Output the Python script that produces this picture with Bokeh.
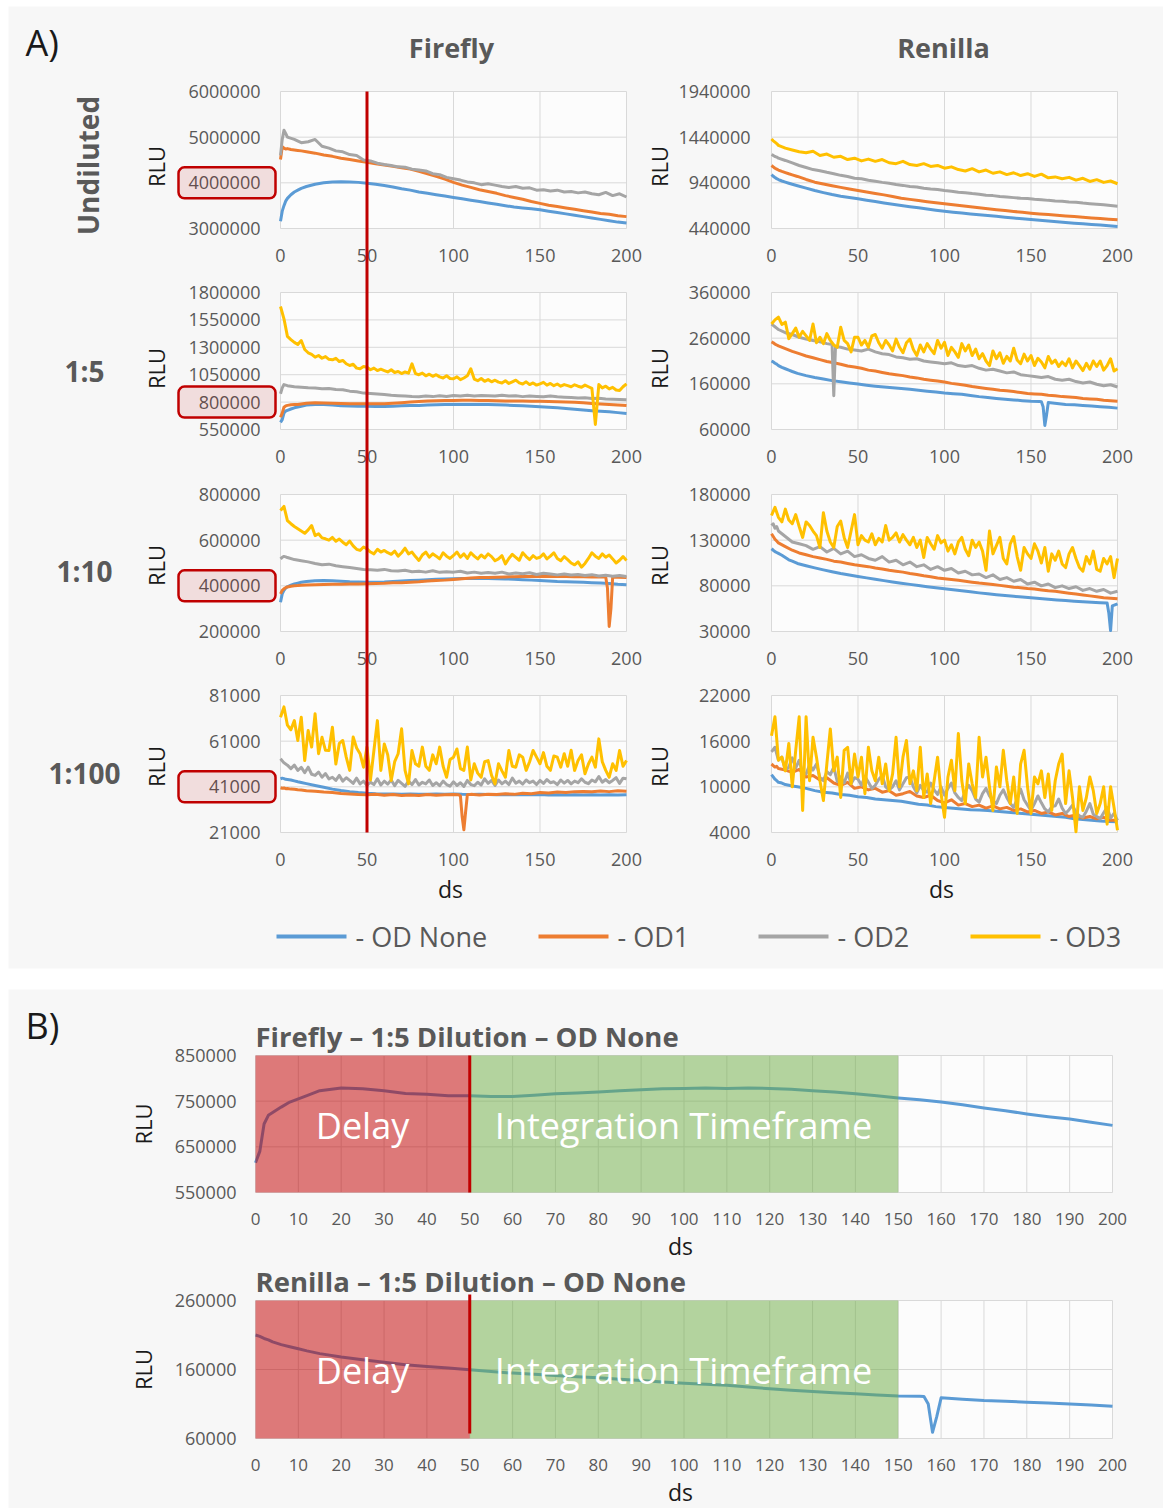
import math
from bokeh.plotting import figure
from bokeh.models import Range1d, LinearAxis, FixedTicker, BasicTickFormatter, BoxAnnotation
from bokeh.core.properties import value
from bokeh.embed import file_html
from bokeh.resources import INLINE

# ======================= DATA (RLU values in thousands) =======================
# x sampling grids (ds)
XS = [0, 1, 2, 3, 4, 6, 8, 10, 12, 15] + list(range(20, 201, 5))
X4 = [0, 1, 2, 3] + list(range(4, 201, 4))
X2 = list(range(0, 201, 2))
X_RN15_NONE = [0, 1, 2, 3, 4, 6, 8, 10, 12, 15] + list(range(20, 156, 5)) + [156, 157, 158, 159] + list(range(160, 201, 5))
X_RN15_OD2 = [0, 1, 2, 3] + list(range(4, 33, 4)) + [35, 36, 37] + list(range(40, 201, 4))
X_FF110_OD1 = [0, 1, 2, 3, 4, 6, 8, 10, 12, 15] + list(range(20, 186, 5)) + [188, 189, 190, 191, 192, 195, 200]
X_RN110_NONE = [0, 1, 2, 3, 4, 6, 8, 10, 12, 15] + list(range(20, 191, 5)) + [194, 195, 196, 197, 200]
X_FF1100_OD1 = [0, 1, 2, 3, 4, 6, 8, 10, 12, 15] + list(range(20, 101, 5)) + [103, 104, 105, 106, 107, 108] + list(range(110, 201, 5))

SERIES_NAMES = ["OD None", "OD1", "OD2", "OD3"]
ROW_NAMES = ["Undiluted", "1:5", "1:10", "1:100"]
COLUMN_NAMES = ["Firefly", "Renilla"]

# ---- Undiluted ----
FF_UND_NONE = [3160, 3380, 3500, 3600, 3660, 3740, 3800, 3840, 3880, 3920,
               3970, 4000, 4020, 4025, 4020, 4010, 3990, 3970, 3940, 3910, 3870, 3840, 3800, 3770, 3740, 3710, 3680,
               3650, 3620, 3590, 3560, 3530, 3500, 3470, 3450, 3430, 3410, 3380, 3350, 3320, 3290, 3260, 3230, 3200,
               3170, 3140, 3120]
FF_UND_OD1 = [4510, 4790, 4760, 4740, 4750, 4730, 4720, 4710, 4700, 4680,
              4650, 4610, 4580, 4540, 4510, 4480, 4450, 4420, 4390, 4360, 4330, 4300, 4250, 4200, 4140, 4080, 4010,
              3950, 3900, 3850, 3810, 3770, 3720, 3680, 3640, 3590, 3550, 3510, 3480, 3450, 3420, 3390, 3360, 3330,
              3310, 3280, 3260]
FF_UND_OD2 = [4600, 4950, 5150, 5080, 5000, 4950, 4880, 4900, 4950, 4800, 4760, 4700, 4680, 4620,
              4600, 4500, 4480, 4430, 4400, 4380, 4350, 4340, 4300, 4280, 4260, 4200, 4180, 4120, 4090, 4060, 4020,
              4000, 3960, 3980, 3950, 3920, 3900, 3920, 3880, 3890, 3840, 3850, 3820, 3840, 3800, 3810, 3780, 3800,
              3760, 3740, 3790, 3720, 3760, 3690]
RN_UND_NONE = [1030, 1012, 998, 986, 976, 960, 948, 936, 924, 908,
               882, 856, 833, 812, 794, 779, 765, 750, 735, 720, 706, 692, 679, 666, 653, 641, 629, 619, 609, 600,
               591, 582, 573, 564, 555, 546, 538, 530, 522, 514, 506, 498, 491, 484, 477, 470, 462]
RN_UND_OD1 = [1130, 1115, 1100, 1090, 1080, 1065, 1052, 1039, 1027, 1010,
              977, 947, 927, 908, 890, 872, 856, 839, 823, 808, 790, 772, 759, 746, 734, 722, 710, 699, 688, 677,
              666, 656, 646, 636, 627, 617, 608, 600, 593, 585, 578, 571, 564, 556, 549, 542, 535]
RN_UND_OD2 = [1250, 1240, 1228, 1222, 1210, 1185, 1158, 1130, 1108, 1085, 1072, 1055, 1040, 1022,
              1010, 990, 985, 968, 958, 945, 936, 922, 912, 900, 895, 880, 872, 866, 856, 848, 838, 832, 822, 815,
              803, 800, 790, 785, 778, 770, 768, 760, 756, 748, 742, 738, 730, 728, 718, 712, 706, 700, 692, 684]
RN_UND_OD3 = [1420, 1400, 1385, 1370, 1350, 1320, 1300, 1280, 1270, 1285, 1240, 1255, 1220, 1230,
              1195, 1210, 1180, 1200, 1175, 1195, 1160, 1150, 1175, 1140, 1130, 1150, 1120, 1130, 1100, 1115, 1085,
              1070, 1095, 1060, 1080, 1045, 1060, 1030, 1050, 1020, 1040, 1010, 1035, 995, 1005, 985, 1000, 970,
              990, 955, 975, 945, 960, 930]

# ---- 1:5 ----
FF_15_NONE = [615, 640, 700, 719, 725, 737, 748, 755, 762, 773,
              779, 777, 773, 767, 765, 762, 762, 760, 760, 763, 766, 768, 770, 773, 775, 777, 778, 779, 778, 779,
              778, 776, 773, 770, 766, 762, 757, 753, 748, 742, 735, 729, 722, 716, 711, 704, 697]
FF_15_OD1 = [662, 700, 753, 765, 770, 775, 777, 778, 783, 790,
             793, 792, 790, 788, 786, 785, 784, 784, 786, 790, 795, 800, 805, 809, 812, 814, 815, 816, 816, 815,
             814, 812, 811, 810, 809, 808, 808, 806, 804, 801, 798, 793, 788, 783, 778, 774, 769]
FF_15_OD2 = [876, 930, 960, 955, 950, 940, 935, 930, 928, 922, 925, 915, 912, 900,
             895, 882, 878, 875, 870, 862, 858, 855, 850, 848, 855, 850, 858, 852, 860, 855, 862, 856, 860, 858,
             855, 862, 855, 858, 850, 856, 852, 848, 855, 848, 845, 842, 838, 840, 832, 836, 828, 826, 824, 821]
FF_15_OD3 = [1672, 1560, 1400, 1370, 1345, 1326, 1362, 1280, 1250, 1235,
             1210, 1225, 1200, 1215, 1190, 1186, 1200, 1170, 1180, 1150,
             1134, 1145, 1110, 1104, 1125, 1118, 1095, 1110, 1088, 1100,
             1088, 1075, 1095, 1070, 1080, 1060, 1075, 1064, 1149, 1060,
             1050, 1065, 1040, 1055, 1035, 1050, 1030, 1020, 1040, 1015,
             1013, 1030, 1005, 1020, 1040, 1104, 1010, 995, 1015, 990,
             1005, 985, 1000, 982, 975, 995, 970, 985, 1000, 975,
             965, 985, 960, 975, 955, 967, 980, 955, 970, 950,
             965, 945, 960, 950, 940, 958, 945, 935, 955, 940,
             925, 596, 960, 930, 945, 920, 935, 910, 906, 940,
             967]
RN_15_NONE = [210, 208, 205, 203, 200, 196, 193, 190, 187, 183,
              178, 174, 170.6, 167, 164.4, 162, 159.6, 157, 154.8, 153, 151.3, 149.6, 148, 146, 144, 142, 140,
              138.5, 137, 134.5, 132, 130, 128, 126.4, 124.8, 123.2, 121.6, 121.2,
              121, 110, 69, 92,
              119, 117, 115, 114, 112.7, 111.3, 110, 108.5, 106.8]
RN_15_OD1 = [252, 250, 247, 245, 243, 237, 231, 226, 221, 217, 213, 209, 206, 203,
             199, 197, 194, 190, 188, 185, 182, 180, 178, 175, 173, 170, 168, 166, 164, 161, 159, 157, 154, 152,
             150, 148, 146, 145, 143, 141, 139, 138, 137, 135, 134, 132, 131, 130, 128, 127, 126, 124, 123, 122]
RN_15_OD2 = [291, 288, 285, 282, 279, 272, 268, 262, 258, 255, 252, 248,
             246, 134, 242,
             240, 236, 234, 232, 236, 230, 226, 224, 219, 217, 214, 215, 210, 208, 206, 204, 206, 200, 198, 200,
             194, 190, 192, 188, 184, 186, 180, 178, 176, 174, 176, 170, 168, 170, 165, 162, 164, 159, 156, 158, 153]
RN_15_OD3 = [291, 300, 306, 290, 295, 259, 270, 282, 262, 275,
             265, 255, 291, 250, 262, 248, 270, 255, 245, 240,
             284, 255, 248, 230, 262, 262, 245, 255, 240, 265,
             268, 250, 238, 255, 245, 232, 258, 240, 228, 250,
             258, 235, 222, 245, 230, 248, 236, 226, 255, 238,
             251, 222, 240, 230, 218, 248, 232, 245, 222, 236,
             215, 226, 210, 200, 232, 215, 228, 205, 220, 210,
             238, 212, 204, 225, 210, 222, 200, 216, 208, 195,
             220, 205, 212, 198, 208, 200, 215, 195, 210, 200,
             189, 205, 192, 210, 198, 210, 190, 200, 215, 188,
             193]

# ---- 1:10 ----
FF_110_NONE = [328, 365, 380, 390, 396, 403, 408, 412, 416, 419,
               422, 423, 422, 420, 418, 417, 416, 416, 417, 419, 421, 423, 425, 427, 429, 430, 431, 432, 432, 432,
               432, 431, 430, 429, 427, 425, 423, 421, 419, 418, 417, 416, 414, 412, 410, 407, 405]
FF_110_OD1 = [365, 380, 387, 392, 395, 398, 400, 401, 403, 404,
              405, 406, 407, 407, 408, 408, 409, 410, 411, 413, 414, 416, 418, 421, 423, 425, 428, 431, 434, 436,
              437, 438, 439, 440, 441, 441, 441, 441, 441, 441, 440, 440, 439, 439,
              439, 390, 222, 300, 438, 438, 437]
FF_110_OD2 = [518, 525, 529, 527, 524, 515, 510, 505, 498, 492, 495, 488, 484, 480,
              476, 472, 470, 468, 472, 466, 465, 468, 462, 464, 460, 466, 459, 462, 460, 464, 456, 460, 455, 458,
              455, 460, 452, 456, 453, 457, 450, 455, 452, 448, 452, 447, 450, 445, 449, 443, 446, 442, 445, 441]
FF_110_OD3 = [730, 748, 686, 672, 660, 650, 640, 630, 645, 664,
              620, 628, 610, 606, 600, 612, 595, 605, 591, 580,
              596, 575, 560, 555, 570, 562, 548, 540, 560, 548,
              555, 545, 538, 552, 530, 545, 565, 540, 548, 528,
              511, 535, 548, 525, 540, 530, 518, 545, 530, 520,
              533, 548, 525, 540, 520, 545, 530, 518, 535, 522,
              540, 528, 510, 518, 532, 496, 520, 538, 525, 512,
              545, 528, 515, 532, 520, 525, 540, 518, 530, 545,
              520, 510, 528, 515, 500, 492, 505, 482, 498, 520,
              545, 530, 520, 540, 525, 535, 518, 500, 512, 528,
              511]
RN_110_NONE = [120.6, 119, 117.5, 116.5, 115.5, 113.5, 111, 108.5, 107, 104.5,
               102, 99.7, 97.5, 95.5, 93.5, 91.8, 90.2, 88.7, 87.2, 85.7, 84.3, 82.9, 81.6, 80.3, 79, 77.8, 76.7,
               75.6, 74.5, 73.4, 72.3, 71.3, 70.3, 69.4, 68.5, 67.7, 66.9, 66.1, 65.3, 64.6, 63.9, 63.2, 62.6, 62,
               61.5,
               61.1, 50, 31, 58, 60.3]
RN_110_OD1 = [137, 134, 131, 129, 127, 123, 119, 116, 114, 112, 110.5, 109, 107, 106,
              104.5, 103, 102, 101, 99.5, 98.5, 97, 96, 95, 93.5, 92.5, 91, 90, 88.5, 87.7, 87, 86, 85, 84, 83,
              82.2, 81.5, 80.5, 79.5, 78.5, 78, 77, 76.5, 75.5, 74.5, 74, 73, 72, 71, 70, 69, 68, 67, 66.5, 65.8]
RN_110_OD2 = [146, 148, 143, 145, 140, 134, 128, 126, 124, 120, 123, 117, 121, 115,
              118, 112, 114, 110, 108, 112, 106, 108, 103, 106, 101, 103, 98, 101, 97, 99, 94, 96, 92, 93,
              89, 92, 87, 89, 85, 87, 82, 84, 80, 82, 78, 80, 77, 79, 75, 77, 74, 76, 72, 74]
RN_110_OD3 = [157, 166, 155, 150, 164, 152, 148, 158, 145, 133,
              150, 146, 140, 135, 122, 160, 140, 128, 122, 145,
              151, 133, 122, 140, 158, 125, 135, 130, 128, 137,
              125, 132, 128, 146, 130, 133, 138, 128, 136, 130,
              125, 133, 122, 130, 111, 133, 126, 120, 135, 127,
              130, 118, 125, 115, 128, 133, 120, 113, 130, 122,
              128, 118, 97, 140, 115, 124, 133, 110, 104, 126,
              134, 112, 97, 122, 115, 110, 126, 118, 105, 122,
              96, 115, 108, 118, 104, 100, 115, 122, 110, 100,
              96, 112, 104, 118, 98, 96, 110, 104, 112, 89,
              110]

# ---- 1:100 ----
FF_1100_NONE = [44.5, 44.8, 44.6, 44.3, 44.2, 44, 43.6, 43.2, 42.9, 42.4,
                41.6, 40.8, 40, 39.4, 38.9, 38.5, 38.2, 38, 37.9, 37.9, 37.8, 37.9, 37.8, 37.8, 37.9, 37.8, 37.9,
                37.7, 37.6, 37.7, 37.6, 37.5, 37.6, 37.5, 37.6, 37.5, 37.6, 37.4, 37.5, 37.4, 37.5, 37.4, 37.5,
                37.4, 37.5, 37.4, 37.5]
FF_1100_OD1 = [40.6, 40.4, 40.5, 40.2, 40.3, 40, 39.9, 39.7, 39.6, 39.3,
               39.1, 38.7, 38.5, 38.1, 37.9, 37.6, 37.5, 37.8, 37.3, 37.6, 37.2, 37.4, 37.2, 37.6, 37.3, 37.5, 37.6,
               37.5, 37, 28, 22.2, 30, 37.5,
               37.7, 37.4, 37.8, 37.6, 38, 37.7, 38.2, 38, 38.5, 38.3, 38.7, 38.5, 38.9, 39, 38.8, 39.2, 38.9, 39.3,
               39.1]
FF_1100_OD2 = [53.3, 51.5, 50.5, 49, 50.5, 48.2, 49.5, 47.2, 49.6, 46.5,
               46, 47.5, 45.2, 46.8, 44.5, 45.2, 43.8, 46, 43.5, 45,
               43.8, 42.5, 44.8, 42.3, 43.5, 41.6, 43, 42, 44.5, 41.8,
               43.5, 42.2, 44, 41.5, 43.8, 42.5, 41.2, 43.5, 42, 44.2,
               41.8, 43, 42.3, 44, 41.6, 42.8, 41.5, 43.5, 42, 41.3,
               43.2, 41.6, 42.8, 41.2, 43.8, 42, 41.5, 43, 41.8, 44.5,
               42.5, 43.8, 41.6, 44, 42.3, 43.5, 42, 44.8, 42.6, 43.5,
               42.2, 44, 42.8, 43.5, 42, 43.8, 42.5, 44.2, 42.8, 43.2,
               42, 44, 42.6, 43.8, 42.3, 43.5, 42.8, 44.5, 43, 42.4,
               44, 43.2, 45.5, 43, 44.2, 42.8, 43.8, 45, 42.5, 44.8,
               44.5]
FF_1100_OD3 = [71.5, 76, 68, 66, 70, 61.3, 71.5, 52.5, 65.7, 58.4,
               73, 55.5, 62.7, 57, 56.9, 67.1, 51, 60, 61.3, 54,
               48.2, 62.8, 58, 55.5, 49.6, 58.4, 44, 56.9, 70, 48.2,
               59.8, 55, 43.8, 52, 55.5, 66.4, 48.2, 42.3, 56.9, 51.1,
               50, 58.4, 50, 48.2, 55, 51.1, 58.4, 50, 45.2, 53,
               54, 57.6, 49, 48.2, 58.4, 44, 51.1, 47, 45.2, 52,
               52.5, 46, 42.3, 51.1, 48, 45.2, 56.9, 50, 49.6, 55,
               54, 48.2, 52, 56.9, 54, 51.1, 56, 50, 48.2, 54.5,
               54, 49.6, 55.5, 50, 57, 48.2, 52.5, 55, 46.7, 51,
               54, 49.6, 62, 52, 48.2, 45.2, 51.1, 48.2, 56.9, 50,
               52.5]
RN_1100_NONE = [11.6, 11.3, 11, 10.8, 10.6, 10.5, 10.3, 10.2, 10.1, 10,
                9.8, 9.5, 9.3, 9.2, 9.0, 8.9, 8.7, 8.6, 8.4, 8.3, 8.2, 8.1, 7.9, 7.7, 7.6, 7.4, 7.3, 7.2, 7.1, 7.0,
                6.95, 6.9, 6.8, 6.7, 6.6, 6.5, 6.4, 6.3, 6.2, 6.1, 6.0, 5.8, 5.7, 5.6, 5.5, 5.45, 5.4]
RN_1100_OD1 = [13, 12.8, 12.6, 12.7, 12.4, 12.2, 11.9, 12.3, 11.3, 11.5, 10.9, 11.2, 10.5, 10.2,
               10.6, 9.8, 10, 9.6, 9.8, 9.3, 9.5, 8.9, 9.1, 9.4, 8.8, 8.6, 8.9, 8.2, 7.9, 8.3, 7.6, 7.8, 7.4, 7.6,
               7.2, 7.5, 7.1, 7.3, 6.9, 7.1, 6.7, 6.9, 6.5, 6.7, 6.3, 6.5, 6.1, 6.3, 5.9, 6.1, 5.8, 6, 5.6, 5.6]
RN_1100_OD2 = [14.6, 15.2, 13.5, 13.9, 12.2, 12.6, 13.8, 12.5, 13.5, 11.8,
               11.7, 12.9, 12.2, 13, 11.2, 10.8, 12, 11.6, 12.6, 10.7,
               11.3, 10.5, 11.8, 10.4, 11.2, 11, 10.2, 11.4, 10.6, 9.8,
               10.2, 11, 11.5, 10, 9.6, 10, 10.8, 9.6, 10.4, 11.2,
               11.3, 10, 9.2, 10.2, 9.5, 9.3, 10.5, 9.6, 9, 10,
               8.9, 9.8, 10.5, 9.2, 8.6, 8.2, 9.4, 10.2, 9.5, 8.4,
               8, 9.1, 9.8, 8.8, 8.2, 7.8, 8.9, 9.6, 8.6, 7.8,
               7.3, 8.4, 9.7, 8.3, 7.6, 6.9, 7.8, 8.8, 7.9, 7.1,
               6.7, 7.4, 7.5, 8.4, 7.2, 6.5, 7, 7.6, 6.6, 6.2,
               6, 6.8, 7.8, 6.4, 6.1, 5.8, 6.6, 7.3, 5.9, 6.5,
               5.6]
RN_1100_OD3 = [16.7, 19.2, 13.5, 13.9, 12.1, 15.7, 10, 14.8, 19.2, 6.9,
               19.2, 10.8, 16.5, 13.9, 10.8, 8.2, 13, 17.6, 12.1, 13.9,
               8.6, 14.8, 15.2, 10.4, 14.3, 11.3, 13.9, 9.1, 15.2, 12.1,
               10.8, 13.9, 10.4, 13, 9.5, 11.7, 16.5, 10, 13.9, 16.1,
               10.4, 12.1, 9.5, 15.2, 8.6, 11.7, 7.8, 10.8, 13.9, 9.1,
               6, 11.3, 13.5, 9.5, 17, 10.8, 7.8, 13, 10.4, 8.6,
               16.5, 11.3, 13.9, 10, 6.9, 12.6, 10, 14.8, 10.8, 7.8,
               11.3, 6.5, 13, 14.8, 10, 6.5, 11.3, 10.4, 12.1, 8.6,
               11.7, 6.9, 10.8, 13, 14.3, 7.8, 12.1, 8.6, 4.1, 10,
               6.9, 8.6, 11.3, 9.5, 6.5, 7.8, 10, 5.1, 10, 7.3,
               4.3]

# axis ticks
X_TICKS_A = [0, 50, 100, 150, 200]
X_TICKS_B = list(range(0, 201, 10))
FF_YTICKS = [[3000000, 4000000, 5000000, 6000000],
             [550000, 800000, 1050000, 1300000, 1550000, 1800000],
             [200000, 400000, 600000, 800000],
             [21000, 41000, 61000, 81000]]
RN_YTICKS = [[440000, 940000, 1440000, 1940000],
             [60000, 160000, 260000, 360000],
             [30000, 80000, 130000, 180000],
             [4000, 10000, 16000, 22000]]
HIGHLIGHT_TICKS = [4000000, 800000, 400000, 41000]
B_FF_YTICKS = [550000, 650000, 750000, 850000]
B_RN_YTICKS = [60000, 160000, 260000]
DELAY_END = 50
INTEGRATION_END = 150

FF_SERIES = [
    [(XS, FF_UND_NONE), (XS, FF_UND_OD1), (X4, FF_UND_OD2), None],
    [(XS, FF_15_NONE), (XS, FF_15_OD1), (X4, FF_15_OD2), (X2, FF_15_OD3)],
    [(XS, FF_110_NONE), (X_FF110_OD1, FF_110_OD1), (X4, FF_110_OD2), (X2, FF_110_OD3)],
    [(XS, FF_1100_NONE), (X_FF1100_OD1, FF_1100_OD1), (X2, FF_1100_OD2), (X2, FF_1100_OD3)],
]
RN_SERIES = [
    [(XS, RN_UND_NONE), (XS, RN_UND_OD1), (X4, RN_UND_OD2), (X4, RN_UND_OD3)],
    [(X_RN15_NONE, RN_15_NONE), (X4, RN_15_OD1), (X_RN15_OD2, RN_15_OD2), (X2, RN_15_OD3)],
    [(X_RN110_NONE, RN_110_NONE), (X4, RN_110_OD1), (X4, RN_110_OD2), (X2, RN_110_OD3)],
    [(XS, RN_1100_NONE), (X4, RN_1100_OD1), (X2, RN_1100_OD2), (X2, RN_1100_OD3)],
]

# ======================= STYLE / LAYOUT =======================
W, H = 1163, 1508
FONT = "Open Sans"
TXT = "#595959"
DARK = "#1a1a1a"
GRID = "#d9d9d9"
PANEL_BG = "#f7f7f7"
PLOT_BG = "#fcfcfc"
RED = "#C00000"
GREEN = "#70AD47"
COLORS = ["#5B9BD5", "#ED7D31", "#A5A5A5", "#FFC000"]

FRAME_TOP = [91, 292, 494, 695]
FRAME_H = 137
FF_L, FF_R = 280, 626
RN_L, RN_R = 771, 1117
B_L, B_R = 255, 1112
B_FF_T, B_FF_B = 1055, 1192
B_RN_T, B_RN_B = 1300, 1438


def Y(py):
    return H - py


def xr_for(L, R, x0=0.0, x1=200.0):
    k = (x1 - x0) / (R - L)
    return Range1d(x0 - L * k, x0 + (W - L) * k)


def yr_for(T, B, y0, y1):
    k = (y1 - y0) / (B - T)
    return Range1d(y0 - (H - B) * k, y0 + B * k)


p = figure(width=W, height=H, x_range=Range1d(0, W), y_range=Range1d(0, H),
           x_axis_type=None, y_axis_type=None, toolbar_location=None,
           output_backend="svg", min_border=0, outline_line_color=None,
           background_fill_color="white", border_fill_color="white")
p.min_border_left = p.min_border_right = p.min_border_top = p.min_border_bottom = 0

p.extra_x_ranges = {"ffx": xr_for(FF_L, FF_R), "rnx": xr_for(RN_L, RN_R), "bx": xr_for(B_L, B_R)}
eyr = {}
for i in range(4):
    T = FRAME_TOP[i]
    B = T + FRAME_H
    eyr[f"ff{i}"] = yr_for(T, B, FF_YTICKS[i][0], FF_YTICKS[i][-1])
    eyr[f"rn{i}"] = yr_for(T, B, RN_YTICKS[i][0], RN_YTICKS[i][-1])
eyr["bff"] = yr_for(B_FF_T, B_FF_B, B_FF_YTICKS[0], B_FF_YTICKS[-1])
eyr["brn"] = yr_for(B_RN_T, B_RN_B, B_RN_YTICKS[0], B_RN_YTICKS[-1])
p.extra_y_ranges = eyr

# panel backgrounds
p.quad(left=[8, 8], right=[W, W], bottom=[Y(968), Y(H)], top=[Y(6), Y(989)],
       fill_color=PANEL_BG, line_color=None)


def plot_area(xr, yr, y0, y1, yticks, xticks):
    p.quad(left=[0], right=[200], bottom=[y0], top=[y1], x_range_name=xr, y_range_name=yr,
           fill_color=PLOT_BG, line_color=GRID, line_width=1)
    hy = [t for t in yticks if y0 < t < y1]
    if hy:
        p.segment(x0=[0] * len(hy), y0=hy, x1=[200] * len(hy), y1=hy, x_range_name=xr, y_range_name=yr,
                  line_color=GRID, line_width=1)
    vx = [t for t in xticks if 0 < t < 200]
    p.segment(x0=vx, y0=[y0] * len(vx), x1=vx, y1=[y1] * len(vx), x_range_name=xr, y_range_name=yr,
              line_color=GRID, line_width=1)


def add_axes(xr, yr, y0, y1, yticks, xticks, ystand, xsize="18px", ysize="18px", xstand=20):
    common = dict(axis_line_color=None, major_tick_line_color=None, minor_tick_line_color=None,
                  major_tick_out=0, major_tick_in=0, major_label_text_font=FONT,
                  major_label_text_color=TXT)
    ya = LinearAxis(x_range_name=xr, y_range_name=yr, fixed_location=0, bounds=(y0, y1),
                    ticker=FixedTicker(ticks=yticks), formatter=BasicTickFormatter(use_scientific=False),
                    major_label_standoff=ystand, major_label_text_font_size=ysize, **common)
    p.add_layout(ya, "left")
    xa = LinearAxis(x_range_name=xr, y_range_name=yr, fixed_location=y0, bounds=(0, 200),
                    ticker=FixedTicker(ticks=xticks), formatter=BasicTickFormatter(use_scientific=False),
                    major_label_standoff=xstand, major_label_text_font_size=xsize, **common)
    p.add_layout(xa, "below")


def series(xr, yr, xs, ys_k, color, width=3):
    n = min(len(xs), len(ys_k))
    p.line(x=xs[:n], y=[v * 1000 for v in ys_k[:n]], x_range_name=xr, y_range_name=yr,
           line_color=color, line_width=width, line_join="round")


def txt(x, y, s, size, color=TXT, bold=False, align="center", baseline="middle", angle=0.0):
    p.text(x=[x], y=[Y(y)], text=[s], text_font=value(FONT), text_font_size=f"{size}px",
           text_font_style="bold" if bold else "normal", text_color=color,
           text_align=align, text_baseline=baseline, angle=angle)


# ---------------- Panel A ----------------
for i in range(4):
    T = FRAME_TOP[i]
    for xr, yr, yt, ser in (("ffx", f"ff{i}", FF_YTICKS[i], FF_SERIES[i]),
                            ("rnx", f"rn{i}", RN_YTICKS[i], RN_SERIES[i])):
        plot_area(xr, yr, yt[0], yt[-1], yt, X_TICKS_A)
        for k, s in enumerate(ser):
            if s is not None:
                series(xr, yr, s[0], s[1], COLORS[k])
    add_axes("ffx", f"ff{i}", FF_YTICKS[i][0], FF_YTICKS[i][-1], FF_YTICKS[i], X_TICKS_A, 20)
    add_axes("rnx", f"rn{i}", RN_YTICKS[i][0], RN_YTICKS[i][-1], RN_YTICKS[i], X_TICKS_A, 21)

# red delay marker across the Firefly column
red_a = p.segment(x0=[DELAY_END], y0=[Y(FRAME_TOP[0])], x1=[DELAY_END], y1=[Y(FRAME_TOP[3] + FRAME_H)],
                  x_range_name="ffx", line_color=RED, line_width=3)
red_a.level = "overlay"

# highlighted tick labels
for i in range(4):
    y0, y1 = FF_YTICKS[i][0], FF_YTICKS[i][-1]
    c = FRAME_TOP[i] + FRAME_H - (HIGHLIGHT_TICKS[i] - y0) / (y1 - y0) * FRAME_H
    kw = dict(left=178, right=275, top=Y(c - 15.5), bottom=Y(c + 15.5), fill_color=RED, fill_alpha=0.1,
              line_color=RED, line_width=2.5, line_alpha=1.0)
    try:
        box = BoxAnnotation(border_radius=6, **kw)
    except Exception:
        box = BoxAnnotation(**kw)
    p.add_layout(box)

# texts panel A
txt(25, 42, "A)", 36, color=DARK, align="left")
txt(451, 47, COLUMN_NAMES[0], 27, bold=True)
txt(943, 47, COLUMN_NAMES[1], 27, bold=True)
txt(87, 165, ROW_NAMES[0], 28, bold=True, angle=math.pi / 2)
for name, yc in zip(ROW_NAMES[1:], [370, 570, 772]):
    txt(84, yc, name, 28, bold=True)
for yc in [166, 368, 565, 766]:
    txt(155, yc, "RLU", 22, color=DARK, angle=math.pi / 2)
    txt(658, yc, "RLU", 22, color=DARK, angle=math.pi / 2)
txt(450, 888, "ds", 23, color=DARK)
txt(941, 888, "ds", 23, color=DARK)

# legend
LEG_X0 = [276, 538, 758, 970]
LEG_LEN = 70
LEG_Y = 936
p.segment(x0=LEG_X0, x1=[x + LEG_LEN for x in LEG_X0], y0=[Y(LEG_Y)] * 4, y1=[Y(LEG_Y)] * 4,
          line_color=COLORS, line_width=4)
p.text(x=[x + LEG_LEN + 9 for x in LEG_X0], y=[Y(LEG_Y)] * 4, text=["- " + n for n in SERIES_NAMES],
       text_font=value(FONT), text_font_size="27px", text_color=TXT, text_align="left", text_baseline="middle")

# ---------------- Panel B ----------------
txt(25, 1025, "B)", 36, color=DARK, align="left")
B_SPECS = [
    ("bff", B_FF_T, B_FF_B, B_FF_YTICKS, XS, FF_15_NONE, "Firefly \u2013 1:5 Dilution \u2013 OD None", 1036, B_FF_T, B_FF_B),
    ("brn", B_RN_T, B_RN_B, B_RN_YTICKS, X_RN15_NONE, RN_15_NONE, "Renilla \u2013 1:5 Dilution \u2013 OD None", 1281, 1294, 1433),
]
for yr, T, Bb, yt, xs, ys, title, title_y, red_top, red_bot in B_SPECS:
    y0, y1 = yt[0], yt[-1]
    plot_area("bx", yr, y0, y1, yt, X_TICKS_B)
    series("bx", yr, xs, ys, COLORS[0], 3)
    p.quad(left=[0], right=[DELAY_END], bottom=[y0], top=[y1], x_range_name="bx", y_range_name=yr,
           fill_color=RED, fill_alpha=0.52, line_color=None)
    p.quad(left=[DELAY_END], right=[INTEGRATION_END], bottom=[y0], top=[y1], x_range_name="bx", y_range_name=yr,
           fill_color=GREEN, fill_alpha=0.52, line_color=None)
    mid = (T + Bb) / 2
    txt(362, mid + 1, "Delay", 36, color="white")
    txt(683, mid + 1, "Integration Timeframe", 36, color="white")
    rb = p.segment(x0=[DELAY_END], x1=[DELAY_END], y0=[Y(red_top)], y1=[Y(red_bot)], x_range_name="bx",
                   line_color=RED, line_width=3)
    rb.level = "overlay"
    add_axes("bx", yr, y0, y1, yt, X_TICKS_B, 19, xsize="17px")
    txt(255, title_y, title, 27.5, bold=True, align="left")
    txt(142, mid, "RLU", 22, color=DARK, angle=math.pi / 2)
    txt(680, Bb + 53, "ds", 23, color=DARK)

open("out.html", "w").write(file_html(p, INLINE))
